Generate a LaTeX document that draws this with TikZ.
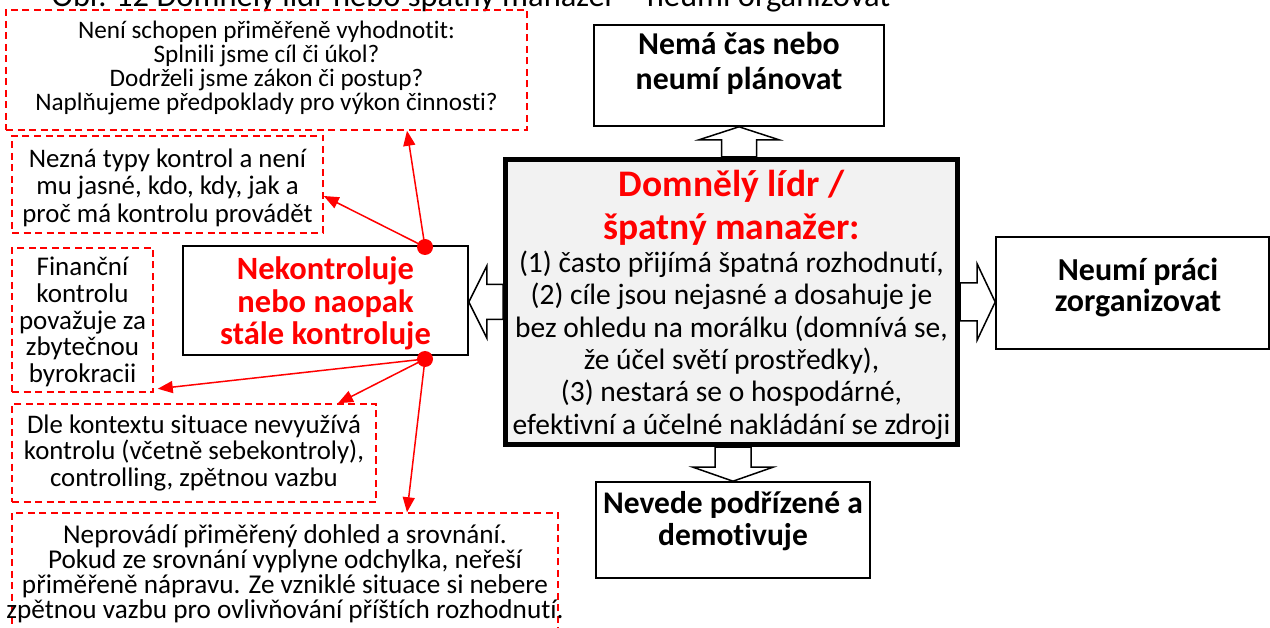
\documentclass[tikz,border=0pt]{standalone}
\usepackage{fontspec}
\setmainfont{Carlito}[Ligatures=NoCommon]
\usetikzlibrary{arrows.meta,calc}
\definecolor{alert}{RGB}{255,0,0}
\definecolor{panel}{RGB}{242,242,242}
\newcommand{\fsz}[2]{\fontsize{#1}{#2}\selectfont}

\begin{document}
\begin{tikzpicture}[x=1pt,y=-1pt,
  note/.style={draw=alert,line width=1.5pt,dash pattern=on 7pt off 4.5pt,inner sep=0pt},
  plainbox/.style={draw=black,line width=1.6pt,fill=white,inner sep=0pt},
  core/.style={draw=black,line width=5pt,fill=panel,inner sep=0pt},
  txt/.style={align=center,inner sep=0pt},
  boldtxt/.style={align=center,inner sep=0pt,font=\bfseries},
  link/.style={draw=alert,line width=1.5pt,-{Triangle[length=15pt,width=12pt]}},
  hub/.style={circle,fill=alert,minimum size=16pt,inner sep=0pt},
  blockarrow/.style={draw=black,line width=1.5pt,fill=white,line join=miter}]

\useasboundingbox (0,0) rectangle (1270,628);

% caption, cut at the top edge
\node[anchor=base,inner sep=0pt,font=\fsz{32.5}{36}] (title) at (471,7)
  {Obr. 12 Domnělý lídr nebo špatný manažer – neumí organizovat};

% central box
\node[core,minimum width=452pt,minimum height=285pt] (ctr) at (731.5,302) {};
\node[txt,text=alert,font=\bfseries\fsz{37.5}{43.5}] (ctrhead) at (731.5,208)
  {Domnělý lídr /\\ špatný manažer:};
\node[txt,font=\fsz{29.5}{32.4}] (ctrbody) at (731.5,345)
  {(1) často přijímá špatná rozhodnutí,\\
   (2) cíle jsou nejasné a dosahuje je\\
   bez ohledu na morálku (domnívá se,\\
   že účel světí prostředky),\\
   (3) nestará se o hospodárné,\\
   efektivní a účelné nakládání se zdroji};

% surrounding consequences
\node[plainbox,minimum width=290pt,minimum height=101pt] (top) at (739,75.5) {};
\node[boldtxt,font=\bfseries\fsz{31.8}{35}] (toptxt) at (739,63.5) {Nemá čas nebo\\ neumí plánovat};

\node[plainbox,minimum width=274pt,minimum height=96pt] (bot) at (733,530) {};
\node[boldtxt,font=\bfseries\fsz{31.5}{32}] (bottxt) at (733,521) {Nevede podřízené a\\ demotivuje};

\node[plainbox,minimum width=273pt,minimum height=112pt] (rt) at (1132.5,293) {};
\node[boldtxt,font=\bfseries\fsz{32}{31}] (rttxt) at (1138,287) {Neumí práci\\ zorganizovat};

\node[plainbox,minimum width=285pt,minimum height=109pt] (nek) at (325.5,300.5) {};
\node[boldtxt,text=alert,font=\bfseries\fsz{32.5}{32.5}] (nektxt) at (325.5,303.5)
  {Nekontroluje\\ nebo naopak\\ stále kontroluje};

% hollow block arrows out of the central box
\coordinate (upT) at (top.south);
\coordinate (upB) at (ctr.north -| upT);
\draw[blockarrow] (upT) -- ($(upT)+(40,13)$) -- ($(upT)+(17.5,13)$) -- ($(upB)+(17.5,0)$)
  -- ($(upB)+(-17.5,0)$) -- ($(upT)+(-17.5,13)$) -- ($(upT)+(-40,13)$) -- cycle;

\coordinate (dnT) at (bot.north);
\coordinate (dnB) at (ctr.south -| dnT);
\draw[blockarrow] (dnT) -- ($(dnT)+(40,-14)$) -- ($(dnT)+(18,-14)$) -- ($(dnB)+(18,0)$)
  -- ($(dnB)+(-18,0)$) -- ($(dnT)+(-18,-14)$) -- ($(dnT)+(-40,-14)$) -- cycle;

\coordinate (ltT) at (nek.east |- ctr.west);
\coordinate (ltB) at (ctr.west);
\draw[blockarrow] (ltT) -- ($(ltT)+(18,-36)$) -- ($(ltT)+(18,-17.5)$) -- ($(ltB)+(0,-17.5)$)
  -- ($(ltB)+(0,17.5)$) -- ($(ltT)+(18,17.5)$) -- ($(ltT)+(18,36)$) -- cycle;

\coordinate (rtT) at (rt.west |- ctr.east);
\coordinate (rtB) at (ctr.east);
\draw[blockarrow] (rtT) -- ($(rtT)+(-18,-38)$) -- ($(rtT)+(-18,-19)$) -- ($(rtB)+(0,-19)$)
  -- ($(rtB)+(0,19)$) -- ($(rtT)+(-18,19)$) -- ($(rtT)+(-18,38)$) -- cycle;

% dashed notes on control
\node[note,minimum width=521pt,minimum height=120pt] (ev) at (266.5,70) {};
\node[txt,font=\fsz{25.2}{24}] (evtxt) at (266.5,67.5)
  {Není schopen přiměřeně vyhodnotit:\\ Splnili jsme cíl či úkol?\\
   Dodrželi jsme zákon či postup?\\ Naplňujeme předpoklady pro výkon činnosti?};

\node[note,minimum width=311pt,minimum height=97pt] (nz) at (167.5,184.5) {};
\node[txt,font=\fsz{26.8}{27.5}] (nztxt) at (167.5,187.5)
  {Nezná typy kontrol a není\\ mu jasné, kdo, kdy, jak a\\ proč má kontrolu provádět};

\node[note,minimum width=141pt,minimum height=144pt] (fin) at (82.5,320) {};
\node[txt,font=\fsz{27}{26.8}] (fintxt) at (82.5,322)
  {Finanční\\ kontrolu\\ považuje za\\ zbytečnou\\ byrokracii};

\node[note,minimum width=364pt,minimum height=98pt] (dle) at (194,453) {};
\node[txt,font=\fsz{26.8}{26.5}] (dletxt) at (194,452.5)
  {Dle kontextu situace nevyužívá\\ kontrolu (včetně sebekontroly),\\ controlling, zpětnou vazbu};

\node[note,minimum width=546pt,minimum height=127pt] (nep) at (285,576.5) {};
\node[txt,font=\fsz{27.2}{25}] (neptxt) at (285,573.5)
  {Neprovádí přiměřený dohled a srovnání.\\
   Pokud ze srovnání vyplyne odchylka, neřeší\\
   přiměřeně nápravu. Ze vzniklé situace si nebere\\
   zpětnou vazbu pro ovlivňování příštích rozhodnutí.};

% red hubs and links
\node[hub] (pa) at (425,247) {};
\node[hub] (pb) at (425,359) {};

\draw[link] (pa.center) -- ([xshift=140.5pt]ev.south);
\draw[link] (pa.center) -- ([yshift=-11.5pt]nz.east);
\draw[link] (pb.center) -- ([shift={(4pt,4pt)}]fin.south east);
\draw[link] (pb.center) -- ([xshift=144pt]dle.north);
\draw[link] (pb.center) -- ([xshift=122pt]nep.north);
\end{tikzpicture}
\end{document}
